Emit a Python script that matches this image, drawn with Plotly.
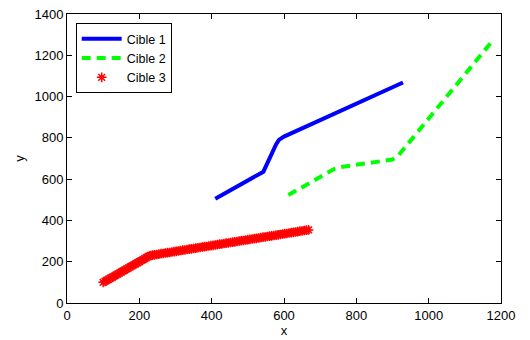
import plotly.graph_objects as go

# Cible 1 (solid blue)
c1_x = [410, 543, 578, 586, 600, 929]
c1_y = [505, 636, 768, 790, 806, 1068]

# Cible 2 (dashed green)
c2_x = [612, 740, 755, 900, 915, 1175]
c2_y = [523, 650, 658, 695, 712, 1267]

# Cible 3 (red asterisks)
c3_x = [100, 105, 110, 115, 120, 125, 130, 135, 140, 145, 150, 155, 160, 165,
        170, 175, 180, 185, 190, 195, 200, 205, 210, 215, 220, 225, 230,
        236, 242, 248, 254, 260, 266, 272, 278, 284, 290, 296, 302, 308, 314,
        320, 326, 332, 338, 344, 350, 356, 362, 368, 374, 380, 386, 392, 398,
        404, 410, 416, 422, 428, 434, 440, 446, 452, 458, 464, 470, 476, 482,
        488, 494, 500, 506, 512, 518, 524, 530, 536, 542, 548, 554, 560, 566,
        572, 578, 584, 590, 596, 602, 608, 614, 620, 626, 632, 638, 644, 650,
        656, 662, 668]
c3_y = [100, 105, 110, 115, 120, 125, 130, 135, 140, 145, 150, 155, 160, 165,
        170, 175, 180, 185, 190, 195, 200, 205, 210, 215, 220, 225, 230,
        232, 233, 235, 237, 239, 240, 242, 244, 245, 247, 249, 250, 252, 254,
        256, 257, 259, 261, 262, 264, 266, 268, 269, 271, 273, 274, 276, 278,
        279, 281, 283, 285, 286, 288, 290, 291, 293, 295, 296, 298, 300, 302,
        303, 305, 307, 308, 310, 312, 313, 315, 317, 319, 320, 322, 324, 325,
        327, 329, 330, 332, 334, 336, 337, 339, 341, 342, 344, 346, 348, 349,
        351, 353, 354]

x_ticks = [0, 200, 400, 600, 800, 1000, 1200]
y_ticks = [0, 200, 400, 600, 800, 1000, 1200, 1400]

FONT = "Liberation Sans, Arial, sans-serif"

fig = go.Figure()
fig.add_trace(go.Scatter(x=c1_x, y=c1_y, mode="lines", name="Cible 1",
                         line=dict(color="#0000ff", width=4)))
fig.add_trace(go.Scatter(x=c2_x, y=c2_y, mode="lines", name="Cible 2",
                         line=dict(color="#00ff00", width=4, dash="9px,6px")))
fig.add_trace(go.Scatter(x=c3_x, y=c3_y, mode="markers", name="Cible 3",
                         marker=dict(symbol="asterisk-open", size=8, color="#ff0000",
                                     line=dict(color="#ff0000", width=1.5))))

axis_common = dict(showgrid=False, zeroline=False, showline=True, linecolor="black",
                   linewidth=1, mirror="ticks", ticks="inside", ticklen=5,
                   tickcolor="black", automargin=False, ticklabeloverflow="allow",
                   tickfont=dict(family=FONT, size=13, color="black"),
                   title_font=dict(family=FONT, size=13, color="black"))

fig.update_xaxes(range=[0, 1200], tickvals=x_ticks, title_text="x",
                 title_standoff=4, **axis_common)
fig.update_yaxes(range=[0, 1400], tickvals=y_ticks, title_text="y",
                 title_standoff=6, **axis_common)

# the page body has an 8px default margin, so the figure is offset by 8px
fig.update_layout(
    width=522, height=332,
    margin=dict(l=59, r=29, t=6, b=37),
    plot_bgcolor="white", paper_bgcolor="white",
    font=dict(family=FONT, size=13, color="black"),
    legend=dict(x=0.02, y=0.968, xanchor="left", yanchor="top",
                bgcolor="white", bordercolor="black", borderwidth=1,
                font=dict(family=FONT, size=12.5, color="black"),
                itemwidth=40, tracegroupgap=0),
)

fig.write_html("out.html")
